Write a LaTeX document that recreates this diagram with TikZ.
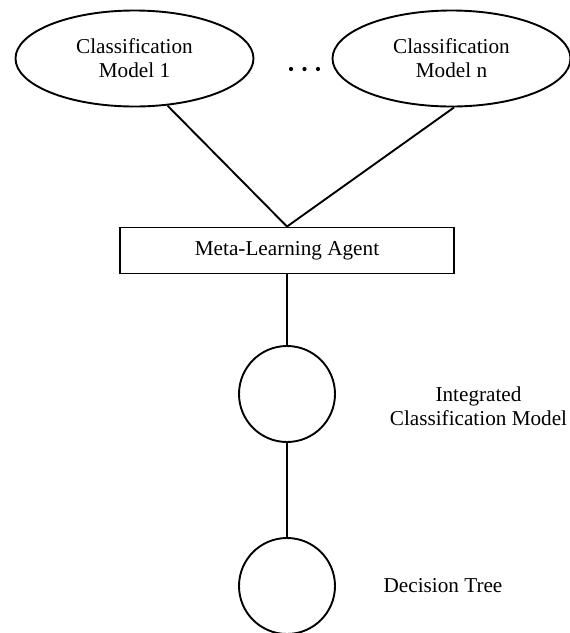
\documentclass[tikz,border=0pt]{standalone}
\usepackage{fontspec}
\setmainfont{Liberation Serif}
\usetikzlibrary{shapes.geometric}

\tikzset{
  every node/.style={font=\fontsize{21.2}{24}\selectfont},
  edge/.style={line width=1.9pt},
  model/.style={ellipse, draw, line width=1.9pt, inner sep=0pt,
                minimum width=238pt, minimum height=96pt, align=center},
  agentbox/.style={rectangle, draw, line width=1.9pt, inner sep=0pt,
                   minimum width=334pt, minimum height=46pt},
  stage/.style={circle, draw, line width=1.9pt, inner sep=0pt, minimum size=96pt},
  label/.style={align=center, inner sep=0pt},
  dot/.style={fill=black, draw=none}
}

\begin{document}
\begin{tikzpicture}[x=1pt, y=-1pt]
  \useasboundingbox (0,0) rectangle (570,633);
  \clip (0,0) rectangle (570,633);

  % base classifiers
  \node[model] (m1) at (134.5,58.5) {Classification\\Model 1};
  \node[model] (m2) at (451.5,58.5) {Classification\\Model n};

  % ellipsis between the classifiers
  \fill[dot] (291,69) circle (2.1);
  \fill[dot] (304.5,69) circle (2.1);
  \fill[dot] (318,69) circle (2.1);

  % meta-learner
  \node[agentbox] (agent) at (287,250.5) {Meta-Learning Agent};

  % combined model and resulting tree
  \node[stage] (icm) at (287,394) {};
  \node[stage] (dt) at (287,586) {};

  \node[label] (icmlabel) at (478.5,406) {Integrated\\Classification Model};
  \node[label] (dtlabel) at (443,586) {Decision Tree};

  % connectors
  \draw[edge] (m1.-55) -- (agent.north);
  \draw[edge] (m2.-87) -- (agent.north);
  \draw[edge] (agent.south) -- (icm.north);
  \draw[edge] (icm.south) -- (dt.north);
\end{tikzpicture}
\end{document}
